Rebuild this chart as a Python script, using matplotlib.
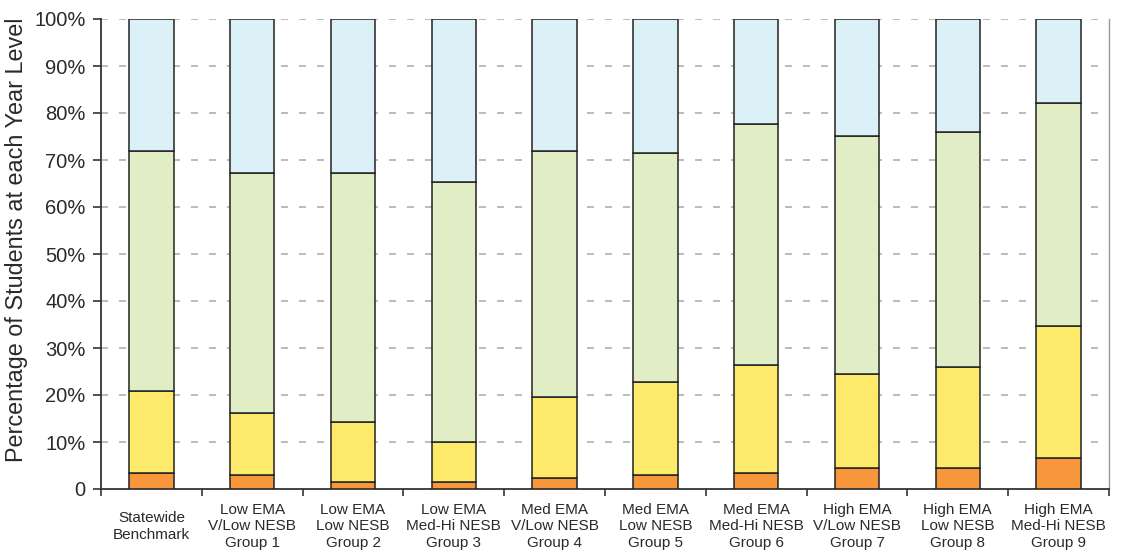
import matplotlib
matplotlib.use("Agg")
import matplotlib.pyplot as plt
import numpy as np

categories = ["Statewide\nBenchmark",
              "Low EMA\nV/Low NESB\nGroup 1",
              "Low EMA\nLow NESB\nGroup 2",
              "Low EMA\nMed-Hi NESB\nGroup 3",
              "Med EMA\nV/Low NESB\nGroup 4",
              "Med EMA\nLow NESB\nGroup 5",
              "Med EMA\nMed-Hi NESB\nGroup 6",
              "High EMA\nV/Low NESB\nGroup 7",
              "High EMA\nLow NESB\nGroup 8",
              "High EMA\nMed-Hi NESB\nGroup 9"]

# cumulative boundaries (percent)
orange_top = [3.4, 3.0, 1.4, 1.4, 2.4, 2.9, 3.4, 4.5, 4.5, 6.5]
yellow_top = [20.8, 16.2, 14.2, 10.1, 19.6, 22.8, 26.4, 24.4, 25.9, 34.7]
green_top = [72.0, 67.3, 67.3, 65.3, 72.0, 71.5, 77.6, 75.1, 76.0, 82.2]
total = [100] * 10

orange_vals = np.array(orange_top)
yellow_vals = np.array(yellow_top) - np.array(orange_top)
green_vals = np.array(green_top) - np.array(yellow_top)
blue_vals = np.array(total) - np.array(green_top)

ytick_labels = ["0", "10%", "20%", "30%", "40%", "50%", "60%", "70%", "80%", "90%", "100%"]

plt.rcParams['font.family'] = ['Liberation Sans', 'DejaVu Sans']

fig = plt.figure(figsize=(11.4, 5.5), dpi=100)
ax = fig.add_axes([101/1140, 1-489/550, (1109-101)/1140, (489-19)/550])

x = np.arange(len(categories))
w = 0.44
edge = dict(edgecolor="#222222", linewidth=1.1, zorder=3)
ax.bar(x, orange_vals, w, color="#f7963a", **edge)
ax.bar(x, yellow_vals, w, bottom=orange_vals, color="#fde96a", **edge)
ax.bar(x, green_vals, w, bottom=orange_vals + yellow_vals, color="#e1edc5", **edge)
ax.bar(x, blue_vals, w, bottom=orange_vals + yellow_vals + green_vals, color="#dcf0f7", **edge)

ax.set_xlim(-0.5, len(categories) - 0.5)
ax.set_ylim(0, 100)
ax.set_yticks(np.arange(0, 101, 10))
ax.set_yticklabels(ytick_labels, fontsize=14.5, color="#2a2a2a")
for yv in range(10, 101, 10):
    ax.axhline(yv, color="#b0b0b0", linestyle=(0, (4.2, 6.6)), linewidth=1.2, zorder=1)

ax.set_xticks(x)
ax.set_xticklabels(categories, fontsize=11, color="#2a2a2a", linespacing=1.25, va="center")
ax.tick_params(axis="x", which="major", length=0, pad=27)
ax.set_xticks(np.arange(-0.5, len(categories), 1), minor=True)
ax.tick_params(axis="x", which="minor", length=5, width=1.2, color="#333333")
ax.tick_params(axis="y", length=6, width=1.2, color="#333333", pad=5)

ax.set_ylabel("Percentage of Students at each Year Level", fontsize=16.8, color="#2a2a2a")
ax.yaxis.set_label_coords(-0.0725, 0.53)

ax.spines["top"].set_visible(False)
ax.spines["right"].set_color("#999999")
ax.spines["right"].set_linewidth(1.0)
ax.spines["left"].set_color("#333333")
ax.spines["left"].set_linewidth(1.3)
ax.spines["bottom"].set_color("#333333")
ax.spines["bottom"].set_linewidth(1.3)

fig.savefig("out.png", dpi=100)
